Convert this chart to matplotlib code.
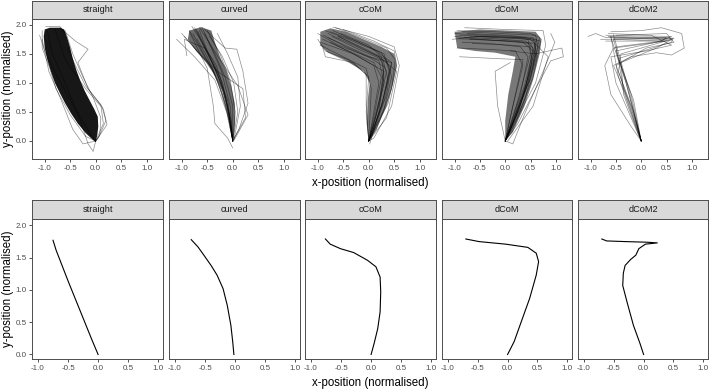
import matplotlib
matplotlib.use("Agg")
import matplotlib.pyplot as plt

plt.rcParams['font.family'] = ['Liberation Sans', 'DejaVu Sans']

conditions = ['straight', 'curved', 'cCoM', 'dCoM', 'dCoM2']

# ---- top row: individual trajectories ----
# outlines of the densest part of each bundle, where the lines merge into a dark mass
core_outline = {
    'straight': [(-0.9, 1.95), (-0.7, 1.95), (-0.62, 1.92), (-0.56, 1.78), (-0.5, 1.6), (-0.45, 1.42),
                 (-0.38, 1.22), (-0.3, 1.03), (-0.22, 0.87), (-0.12, 0.7), (-0.03, 0.55), (0.04, 0.42),
                 (0.05, 0.25), (0.03, 0.1), (0.0, -0.02), (-0.08, 0.04), (-0.2, 0.14), (-0.35, 0.3),
                 (-0.48, 0.47), (-0.6, 0.65), (-0.7, 0.82), (-0.8, 1.0), (-0.88, 1.2), (-0.95, 1.4),
                 (-1.0, 1.6), (-1.02, 1.8), (-1.0, 1.92)],
    'curved': [(-0.85, 1.9), (-0.62, 1.96), (-0.42, 1.9), (-0.35, 1.7), (-0.25, 1.45), (-0.12, 1.2),
               (-0.03, 0.95), (0.04, 0.65), (0.05, 0.35), (0.02, 0.05), (0.0, 0.0), (-0.05, 0.2),
               (-0.1, 0.5), (-0.2, 0.85), (-0.33, 1.1), (-0.52, 1.35), (-0.72, 1.55), (-0.88, 1.75)],
    'cCoM': [(-0.95, 1.88), (-0.75, 1.94), (-0.45, 1.88), (-0.1, 1.75), (0.25, 1.62), (0.5, 1.5),
             (0.55, 1.3), (0.48, 1.0), (0.35, 0.6), (0.15, 0.2), (0.0, 0.0), (-0.04, 0.3), (-0.02, 0.7),
             (0.02, 1.0), (-0.1, 1.2), (-0.45, 1.38), (-0.8, 1.52), (-0.95, 1.65)],
    'dCoM': [(-1.0, 1.88), (-0.5, 1.92), (0.1, 1.9), (0.6, 1.88), (0.72, 1.75), (0.68, 1.5),
             (0.55, 1.05), (0.38, 0.6), (0.15, 0.15), (0.0, 0.0), (0.0, 0.35), (0.06, 0.8), (0.15, 1.2),
             (0.2, 1.45), (-0.2, 1.52), (-0.6, 1.55), (-0.95, 1.6)],
    'dCoM2': [],
}
core_alpha = {'straight': 0.95, 'curved': 0.6, 'cCoM': 0.55, 'dCoM': 0.55, 'dCoM2': 0.0}

traj_lines = {
    'straight': [
        [(-1.1, 1.82), (-1.0, 1.55), (-0.75, 1.1), (-0.4, 0.55), (-0.1, 0.12), (0, 0)],
        [(-0.7, 1.95), (-0.4, 1.72), (-0.15, 1.58), (-0.35, 1.35), (-0.15, 0.9), (0.12, 0.6), (0.2, 0.35), (0.05, 0.05), (0, 0)],
        [(-0.95, 1.9), (-0.85, 1.5), (-0.55, 0.9), (-0.3, 0.35), (-0.15, -0.05), (-0.05, -0.18), (0, 0)],
        [(-0.8, 1.93), (-0.6, 1.4), (-0.2, 0.9), (0.15, 0.55), (0.22, 0.28), (0, 0)],
        [(-1.05, 1.75), (-0.92, 1.2), (-0.7, 0.75), (-0.45, 0.2), (-0.25, -0.05), (0, 0)],
        [(-0.6, 1.9), (-0.45, 1.5), (-0.25, 1.1), (-0.05, 0.75), (0.1, 0.4), (0.08, 0.1), (0, 0)],
        [(-1.05, 1.9), (-1.05, 1.6), (-0.9, 1.25), (-0.78, 0.9), (-0.5, 0.45), (-0.2, 0.08), (0, 0)],
        [(-0.55, 1.6), (-0.4, 1.3), (-0.2, 0.95), (0.1, 0.62), (0.15, 0.3), (0, 0)],
        [(-0.98, 1.97), (-0.7, 1.97), (-0.6, 1.85)],
    ],
    'curved': [
        [(-0.72, 1.93), (-0.55, 1.6), (-0.35, 1.25), (-0.15, 0.8), (-0.03, 0.35), (0, 0)],
        [(-0.65, 1.9), (-0.5, 1.55), (-0.3, 1.15), (-0.1, 0.7), (0, 0)],
        [(-0.78, 1.85), (-0.6, 1.55), (-0.38, 1.2), (-0.2, 0.8), (-0.05, 0.3), (0, 0)],
        [(-0.6, 1.95), (-0.42, 1.6), (-0.22, 1.2), (-0.05, 0.6), (0, 0)],
        [(-0.7, 1.75), (-0.5, 1.45), (-0.3, 1.05), (-0.12, 0.55), (0, 0)],
        [(-0.55, 1.85), (-0.35, 1.5), (-0.15, 1.1), (0.0, 0.6), (0, 0)],
        [(-0.85, 1.9), (-0.65, 1.6), (-0.45, 1.3), (-0.25, 0.95), (-0.08, 0.45), (0, 0)],
        [(-0.5, 1.9), (-0.25, 1.5), (-0.05, 1.05), (0.05, 0.5), (0, 0)],
        [(-0.95, 1.8), (-0.7, 1.55), (-0.4, 1.25), (-0.25, 0.9), (-0.05, 0.3), (0, 0)],
        [(-0.45, 1.8), (-0.2, 1.45), (0.02, 1.0), (0.1, 0.5), (0, 0)],
        [(-1.1, 1.75), (-0.75, 1.45), (-0.35, 1.05), (-0.12, 0.5), (0, 0)],
        [(-0.9, 1.47), (-0.95, 1.75), (-0.55, 1.6), (-0.25, 1.1), (-0.05, 0.4), (0, 0)],
        [(-0.55, 1.92), (-0.15, 1.6), (0.08, 1.58), (0.2, 1.2), (0.3, 0.65), (0.12, 0.2), (0, 0)],
        [(-0.65, 1.95), (-0.25, 1.4), (0.1, 0.95), (0.3, 0.45), (0.05, 0.05), (0, 0)],
        [(-0.85, 1.88), (-0.5, 1.25), (-0.38, 0.6), (-0.35, 0.3), (-0.1, 0.05), (0, -0.12)],
        [(-1.0, 1.85), (-0.7, 1.55), (-0.3, 1.2), (0.2, 0.9), (0.25, 0.4), (0, 0)],
        [(-0.3, 1.85), (-0.1, 1.5), (0.1, 1.1), (0.15, 0.6), (0.02, 0)],
        [(-0.8, 1.97), (-0.6, 1.7), (-0.4, 1.4), (-0.2, 1.0), (-0.08, 0.5), (0, 0)],
        [(-0.68, 1.88), (-0.48, 1.5), (-0.28, 1.1), (-0.12, 0.65), (-0.02, 0.2), (0, 0)],
        [(-0.75, 1.95), (-0.58, 1.65), (-0.32, 1.3), (-0.18, 0.9), (-0.06, 0.4), (0, 0)],
    ],
    'cCoM': [
        [(-0.8, 1.85), (-0.3, 1.65), (0.2, 1.45), (0.35, 1.2), (0.2, 0.6), (0, 0)],
        [(-0.7, 1.9), (-0.2, 1.7), (0.3, 1.5), (0.4, 1.2), (0.25, 0.6), (0, 0)],
        [(-0.9, 1.75), (-0.4, 1.55), (0.1, 1.35), (0.25, 1.1), (0.12, 0.5), (0, 0)],
        [(-0.6, 1.8), (-0.1, 1.6), (0.35, 1.4), (0.45, 1.1), (0.3, 0.55), (0, 0)],
        [(-0.75, 1.7), (-0.3, 1.5), (0.1, 1.3), (0.2, 1.0), (0.08, 0.4), (0, 0)],
        [(-0.85, 1.9), (-0.4, 1.75), (0.15, 1.55), (0.45, 1.35), (0.35, 0.8), (0.05, 0.05), (0, 0)],
        [(-0.65, 1.95), (-0.2, 1.8), (0.35, 1.6), (0.52, 1.4), (0.45, 0.9), (0.15, 0.2), (0, 0)],
        [(-0.95, 1.65), (-0.5, 1.45), (-0.05, 1.25), (0.05, 0.9), (0, 0)],
        [(-0.55, 1.85), (0.0, 1.65), (0.25, 1.45), (0.3, 1.1), (0.15, 0.45), (0, 0)],
        [(-1.0, 1.85), (-0.6, 1.65), (0.0, 1.45), (0.45, 1.35), (0.3, 0.7), (0, 0)],
        [(-0.9, 1.6), (-0.85, 1.45), (-0.3, 1.35), (0.0, 1.1), (-0.05, 0.5), (0, 0)],
        [(-0.7, 1.96), (0.0, 1.8), (0.5, 1.62), (0.6, 1.3), (0.45, 0.6), (0.1, 0.05), (0, 0)],
        [(-0.6, 1.8), (0.2, 1.45), (0.55, 1.2), (0.35, 0.4), (0, 0)],
        [(-0.95, 1.7), (-0.3, 1.5), (0.3, 1.2), (0.2, 0.5), (0.02, -0.05)],
        [(-0.8, 1.78), (-0.35, 1.6), (0.2, 1.38), (0.3, 1.0), (0.1, 0.3), (0, 0)],
        [(-0.75, 1.88), (-0.25, 1.72), (0.25, 1.52), (0.42, 1.25), (0.28, 0.7), (0.05, 0.1), (0, 0)],
        [(-1.0, 1.75), (-0.85, 1.55), (-0.4, 1.4), (-0.05, 1.15), (-0.05, 0.6), (0, 0)],
        [(-0.5, 1.92), (0.1, 1.72), (0.5, 1.55), (0.55, 1.3), (0.38, 0.65), (0, 0)],
        [(-0.88, 1.82), (-0.45, 1.62), (0.05, 1.42), (0.3, 1.28), (0.22, 0.75), (0.04, 0.15), (0, 0)],
        [(-0.72, 1.8), (-0.2, 1.58), (0.28, 1.4), (0.38, 1.05), (0.2, 0.45), (0, 0)],
    ],
    'dCoM': [
        [(-0.9, 1.82), (-0.3, 1.8), (0.3, 1.78), (0.6, 1.72), (0.45, 1.0), (0.15, 0.3), (0, 0)],
        [(-0.8, 1.78), (-0.2, 1.76), (0.4, 1.72), (0.55, 1.6), (0.4, 0.9), (0, 0)],
        [(-1.0, 1.85), (-0.4, 1.82), (0.2, 1.8), (0.62, 1.75), (0.55, 1.3), (0.25, 0.5), (0, 0)],
        [(-0.7, 1.75), (0.0, 1.72), (0.5, 1.68), (0.6, 1.5), (0.35, 0.8), (0, 0)],
        [(-0.85, 1.7), (-0.3, 1.68), (0.3, 1.62), (0.45, 1.45), (0.3, 0.8), (0, 0)],
        [(-0.95, 1.9), (-0.2, 1.88), (0.5, 1.85), (0.68, 1.78), (0.5, 1.1), (0.2, 0.4), (0, 0)],
        [(-0.75, 1.85), (0.0, 1.82), (0.55, 1.78), (0.6, 1.6), (0.42, 1.0), (0.1, 0.2), (0, 0)],
        [(-0.6, 1.8), (0.1, 1.78), (0.45, 1.75), (0.5, 1.5), (0.25, 0.7), (0, 0)],
        [(-1.05, 1.75), (-0.5, 1.8), (0.4, 1.78), (0.7, 1.72), (0.55, 1.1), (0.2, 0.3), (0, 0)],
        [(-0.8, 1.95), (0.0, 1.92), (0.75, 1.9), (0.8, 1.65), (0.6, 1.0), (0, 0)],
        [(-0.9, 1.45), (-0.2, 1.42), (0.35, 1.4), (0.2, 0.8), (0, 0)],
        [(0.1, 1.55), (0.6, 1.5), (1.12, 1.6), (1.15, 1.45), (0.9, 1.38), (0.6, 0.9), (0.25, 0.3), (0, 0)],
        [(0.1, 1.35), (-0.2, 1.2), (-0.15, 0.6), (-0.05, 0.2), (0, 0)],
        [(0.9, 1.85), (0.98, 1.7), (0.75, 1.2), (0.4, 0.5), (0.15, -0.05), (0, 0)],
        [(-0.7, 1.8), (0.5, 1.75), (0.85, 1.45), (0.55, 0.6), (0.05, 0.0)],
        [(-0.95, 1.6), (-0.4, 1.58), (0.2, 1.55), (0.35, 1.3), (0.15, 0.6), (0, 0)],
        [(-0.65, 1.68), (0.1, 1.65), (0.5, 1.62), (0.52, 1.35), (0.3, 0.6), (0, 0)],
        [(-1.0, 1.8), (-0.5, 1.75), (0.2, 1.72), (0.58, 1.68), (0.62, 1.45), (0.38, 0.7), (0, 0)],
        [(-0.85, 1.88), (-0.1, 1.85), (0.6, 1.82), (0.65, 1.62), (0.48, 1.05), (0.22, 0.45), (0, 0)],
        [(-0.92, 1.76), (-0.35, 1.74), (0.35, 1.7), (0.55, 1.55), (0.38, 0.95), (0.1, 0.25), (0, 0)],
    ],
    'dCoM2': [
        [(-0.7, 1.82), (0.6, 1.8), (0.3, 1.7), (-0.5, 1.55), (-0.2, 0.8), (0, 0)],
        [(-0.65, 1.8), (0.5, 1.78), (0.4, 1.72), (-0.55, 1.75), (-0.3, 1.0), (0, 0)],
        [(-0.6, 1.78), (-0.3, 1.0), (0, 0)],
        [(-0.55, 1.83), (-0.25, 0.9), (0, 0)],
        [(-0.8, 1.75), (0.62, 1.76), (0.6, 1.7), (-0.45, 1.42), (-0.15, 0.7), (0, 0)],
        [(-1.05, 1.8), (-0.9, 1.85), (-0.7, 1.78), (0.55, 1.78), (0.65, 1.7), (0.1, 1.6), (-0.5, 1.3), (-0.15, 0.5), (0, 0)],
        [(-0.6, 1.88), (0.0, 1.9), (0.4, 1.95), (0.8, 1.85), (0.85, 1.6), (0.6, 1.48), (0.3, 1.52), (-0.2, 1.45), (-0.55, 1.3), (-0.2, 0.6), (0, 0)],
        [(-0.7, 1.72), (0.5, 1.72), (-0.55, 1.6), (-0.72, 1.3), (-0.6, 0.8), (-0.2, 0.25), (0, 0)],
        [(-0.5, 1.82), (0.5, 1.85), (0.6, 1.75), (-0.4, 1.5), (-0.45, 1.2), (-0.1, 0.3), (0, 0)],
        [(-0.65, 1.85), (0.2, 1.82), (0.6, 1.65), (0.1, 1.55), (-0.6, 1.45), (-0.5, 1.0), (-0.1, 0.2), (0, 0)],
        [(-0.6, 1.8), (-0.45, 1.1), (0, 0)],
        [(-0.55, 1.76), (0.65, 1.77), (0.3, 1.6), (-0.4, 1.35), (-0.35, 0.8), (-0.05, 0.1), (0, 0)],
        [(-0.62, 1.79), (0.58, 1.74), (-0.5, 1.62), (-0.35, 0.9), (0, 0)],
    ],
}

# ---- bottom row: mean trajectories ----
mean_x = {
    'straight': [-0.75, -0.70, -0.60, -0.50, -0.40, -0.30, -0.20, -0.10, 0.0],
    'curved': [-0.73, -0.62, -0.52, -0.40, -0.30, -0.20, -0.13, -0.07, -0.04, -0.02],
    'cCoM': [-0.76, -0.68, -0.51, -0.29, -0.06, 0.08, 0.15, 0.16, 0.15, 0.11, 0.05, 0.0],
    'dCoM': [-0.70, -0.48, -0.03, 0.34, 0.48, 0.52, 0.48, 0.37, 0.23, 0.11, 0.0],
    'dCoM2': [-0.70, -0.62, -0.31, 0.06, 0.23, 0.03, -0.08, -0.13, -0.22, -0.31, -0.34, -0.35,
              -0.28, -0.17, -0.06, 0.0],
}
mean_y = {
    'straight': [1.77, 1.62, 1.38, 1.14, 0.91, 0.68, 0.45, 0.22, 0.0],
    'curved': [1.78, 1.67, 1.54, 1.38, 1.23, 1.02, 0.76, 0.45, 0.20, 0.0],
    'cCoM': [1.79, 1.71, 1.64, 1.58, 1.46, 1.36, 1.20, 0.97, 0.66, 0.40, 0.17, 0.0],
    'dCoM': [1.79, 1.75, 1.71, 1.66, 1.57, 1.44, 1.23, 0.87, 0.51, 0.20, 0.0],
    'dCoM2': [1.79, 1.76, 1.75, 1.74, 1.73, 1.71, 1.64, 1.54, 1.47, 1.38, 1.26, 1.07,
              0.82, 0.45, 0.17, 0.0],
}

xticks = [-1.0, -0.5, 0.0, 0.5, 1.0]
xticklabels = ['-1.0', '-0.5', '0.0', '0.5', '1.0']
yticks = [0.0, 0.5, 1.0, 1.5, 2.0]
yticklabels = ['0.0', '0.5', '1.0', '1.5', '2.0']

W, H = 709, 390
fig = plt.figure(figsize=(W / 100, H / 100), dpi=100)

panel_x = [(32, 163), (169, 300), (305, 436), (442, 572), (578, 708)]
border = '#4d4d4d'
tick_col = '#4d4d4d'


def rect(x0, x1, ytop, ybot):
    return [x0 / W, 1 - ybot / H, (x1 - x0) / W, (ybot - ytop) / H]


def make_panel(x0, x1, strip_top, strip_bot, panel_bot, name, first, xlim, ylim):
    ax = fig.add_axes(rect(x0, x1, strip_bot, panel_bot))
    ax.set_xlim(*xlim)
    ax.set_ylim(*ylim)
    ax.set_xticks(xticks)
    ax.set_xticklabels(xticklabels)
    ax.set_yticks(yticks)
    if first:
        ax.set_yticklabels(yticklabels)
    else:
        ax.tick_params(axis='y', left=False, labelleft=False)
    ax.tick_params(length=2.5, width=0.6, color='#333333', labelsize=5.8,
                   labelcolor=tick_col, pad=1.5)
    for s in ax.spines.values():
        s.set_color(border)
        s.set_linewidth(0.7)
    st = fig.add_axes(rect(x0, x1, strip_top, strip_bot))
    st.set_facecolor('#d9d9d9')
    st.set_xticks([])
    st.set_yticks([])
    for s in st.spines.values():
        s.set_color(border)
        s.set_linewidth(0.7)
    st.text(0.5, 0.5, name, ha='center', va='center', fontsize=6.6, color='#1a1a1a',
            transform=st.transAxes)
    return ax


# top row
for i, name in enumerate(conditions):
    x0, x1 = panel_x[i]
    ax = make_panel(x0, x1, 1, 19, 159, name, i == 0, (-1.25, 1.32), (-0.31, 2.10))
    if core_outline[name]:
        ax.fill(*zip(*core_outline[name]), color='#0a0a0a', alpha=core_alpha[name], lw=0)
    for tr in traj_lines[name]:
        xs, ys = zip(*tr)
        ax.plot(xs, ys, color='black', lw=0.5, alpha=0.45)

# bottom row
for i, name in enumerate(conditions):
    x0, x1 = panel_x[i]
    ax = make_panel(x0, x1, 200, 219, 359, name, i == 0, (-1.1, 1.08), (-0.07, 2.10))
    ax.plot(mean_x[name], mean_y[name], color='black', lw=0.8)

# axis titles
fig.text(370 / W, 1 - 183 / H, 'x-position (normalised)', ha='center', va='center', fontsize=8.3)
fig.text(370 / W, 1 - 383 / H, 'x-position (normalised)', ha='center', va='center', fontsize=8.3)
fig.text(8 / W, 1 - 89 / H, 'y-position (normalised)', ha='center', va='center', rotation=90, fontsize=8.3)
fig.text(8 / W, 1 - 289 / H, 'y-position (normalised)', ha='center', va='center', rotation=90, fontsize=8.3)

fig.savefig('out.png', dpi=100)
